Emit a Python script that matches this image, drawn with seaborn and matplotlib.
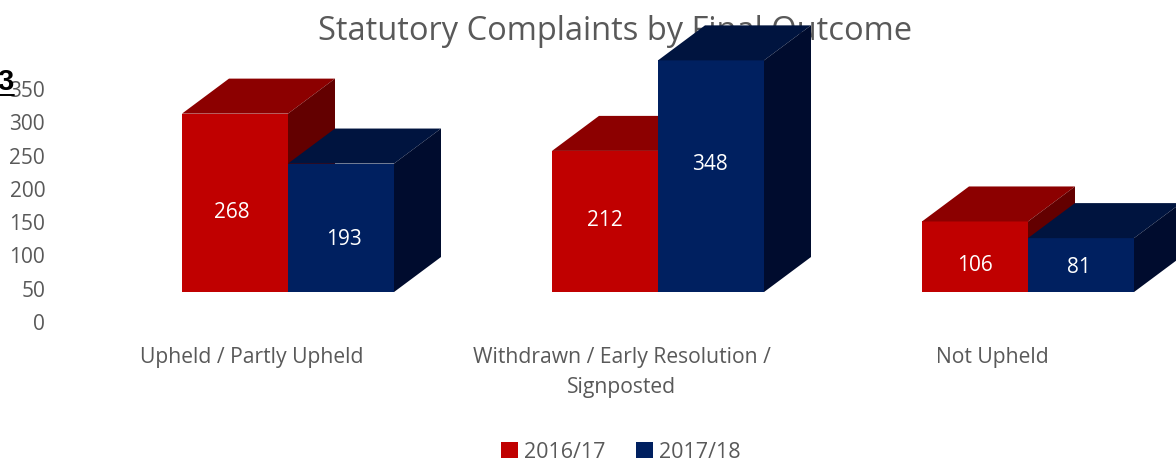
import numpy as np
import pandas as pd
import matplotlib
matplotlib.use("Agg")
import matplotlib.pyplot as plt
import seaborn as sns

categories = ["Upheld / Partly Upheld", "Withdrawn / Early Resolution /\nSignposted", "Not Upheld"]
series_names = ["2016/17", "2017/18"]
values_2016 = [268, 212, 106]
values_2017 = [193, 348, 81]
y_ticks = [0, 50, 100, 150, 200, 250, 300, 350]

W, H = 1176, 462
FLOOR = 45          # the 3D floor sits above the zero tick
DEPTH_X = 47 / 370  # category units
DEPTH_Y = 52.6      # value units
# px a value label sits off its bar centre (series by series)
label_dx = [[-3, 0, 0], [3, -1, -2]]
label_dy = [[9.5, -1, 8.5], [11.5, -12, 2]]

front = ["#C00000", "#002060"]
top = ["#8C0000", "#00143F"]
side = ["#630000", "#000C2E"]
GREY = "#595959"

sns.set_theme(style="white")
plt.rcParams["font.family"] = ["Open Sans", "DejaVu Sans"]

df = pd.DataFrame({
    "category": categories * 2,
    "series": np.repeat(series_names, 3),
    "value": values_2016 + values_2017,
})

fig = plt.figure(figsize=(W / 100, H / 100), dpi=100)
left, zero_y, top_y = 50, 322, 89
ax = fig.add_axes([left / W, 1 - zero_y / H, 1 - left / W, (zero_y - top_y) / H])

sns.barplot(data=df, x="category", y="value", hue="series", palette=front,
            width=212 / 370, gap=0, saturation=1, linewidth=0, ax=ax)

ax.set_xlim(-(288 - left) / 370, (W - 288) / 370)
ax.set_ylim(0, 350)
ax.set_xlabel("")
ax.set_ylabel("")
sns.despine(ax=ax, left=True, bottom=True)

# extrude every front face into a box
for s, cont in enumerate(ax.containers):
    for k, bar in enumerate(cont):
        bar.set_y(FLOOR)
        x0, w = bar.get_x(), bar.get_width()
        y0, h = bar.get_y(), bar.get_height()
        x1, y1 = x0 + w, y0 + h
        z = 2 + s
        bar.set_zorder(z)
        bar.set_clip_on(False)
        ax.fill([x0, x0 + DEPTH_X, x1 + DEPTH_X, x1],
                [y1, y1 + DEPTH_Y, y1 + DEPTH_Y, y1],
                color=top[s], lw=0, zorder=z + 0.1, clip_on=False)
        ax.fill([x1, x1 + DEPTH_X, x1 + DEPTH_X, x1],
                [y0, y0 + DEPTH_Y, y1 + DEPTH_Y, y1],
                color=side[s], lw=0, zorder=z + 0.1, clip_on=False)
        ax.annotate(f"{h:.0f}", (x0 + w / 2, y0 + h / 2),
                    xytext=(label_dx[s][k] * 0.72, -label_dy[s][k] * 0.72),
                    textcoords="offset points", ha="center", va="center",
                    color="white", fontsize=15, zorder=6)

ax.set_yticks(y_ticks)
ax.tick_params(axis="y", length=0, pad=3.5, labelsize=15, labelcolor=GREY)
# category labels sit left of the bar-pair centre
ax.set_xticks(np.arange(3) - 36 / 370)
ax.set_xticklabels(categories, linespacing=1.55)
ax.tick_params(axis="x", length=0, pad=18, labelsize=15.2, labelcolor=GREY)

fig.text(615 / W, 1 - 31 / H, "Statutory Complaints by Final Outcome", ha="center",
         va="center", fontsize=23.5, color=GREY, zorder=-1)
ax.set_zorder(1)
ax.patch.set_visible(False)

ax.legend(title=None, frameon=False, ncol=2, loc="center", fontsize=15.5,
          bbox_to_anchor=(621 / W, 1 - 452 / H), bbox_transform=fig.transFigure,
          labelcolor=GREY, handlelength=0.79, handleheight=0.79, handletextpad=0.28,
          columnspacing=1.4, borderpad=0)

# stray text from the source page
fig.text(-3 / W, 1 - 90 / H, "3", fontsize=21, fontweight="bold", family="Liberation Sans",
         color="black", ha="left", va="baseline", zorder=5)
fig.add_artist(plt.Line2D([0, 14 / W], [1 - 95 / H, 1 - 95 / H], color="black", lw=1.4))
fig.text(98 / W, 1 + 3 / H, "p", fontsize=12, family="Liberation Sans", color="black",
         ha="left", va="baseline")

fig.savefig("out.png", dpi=100)
